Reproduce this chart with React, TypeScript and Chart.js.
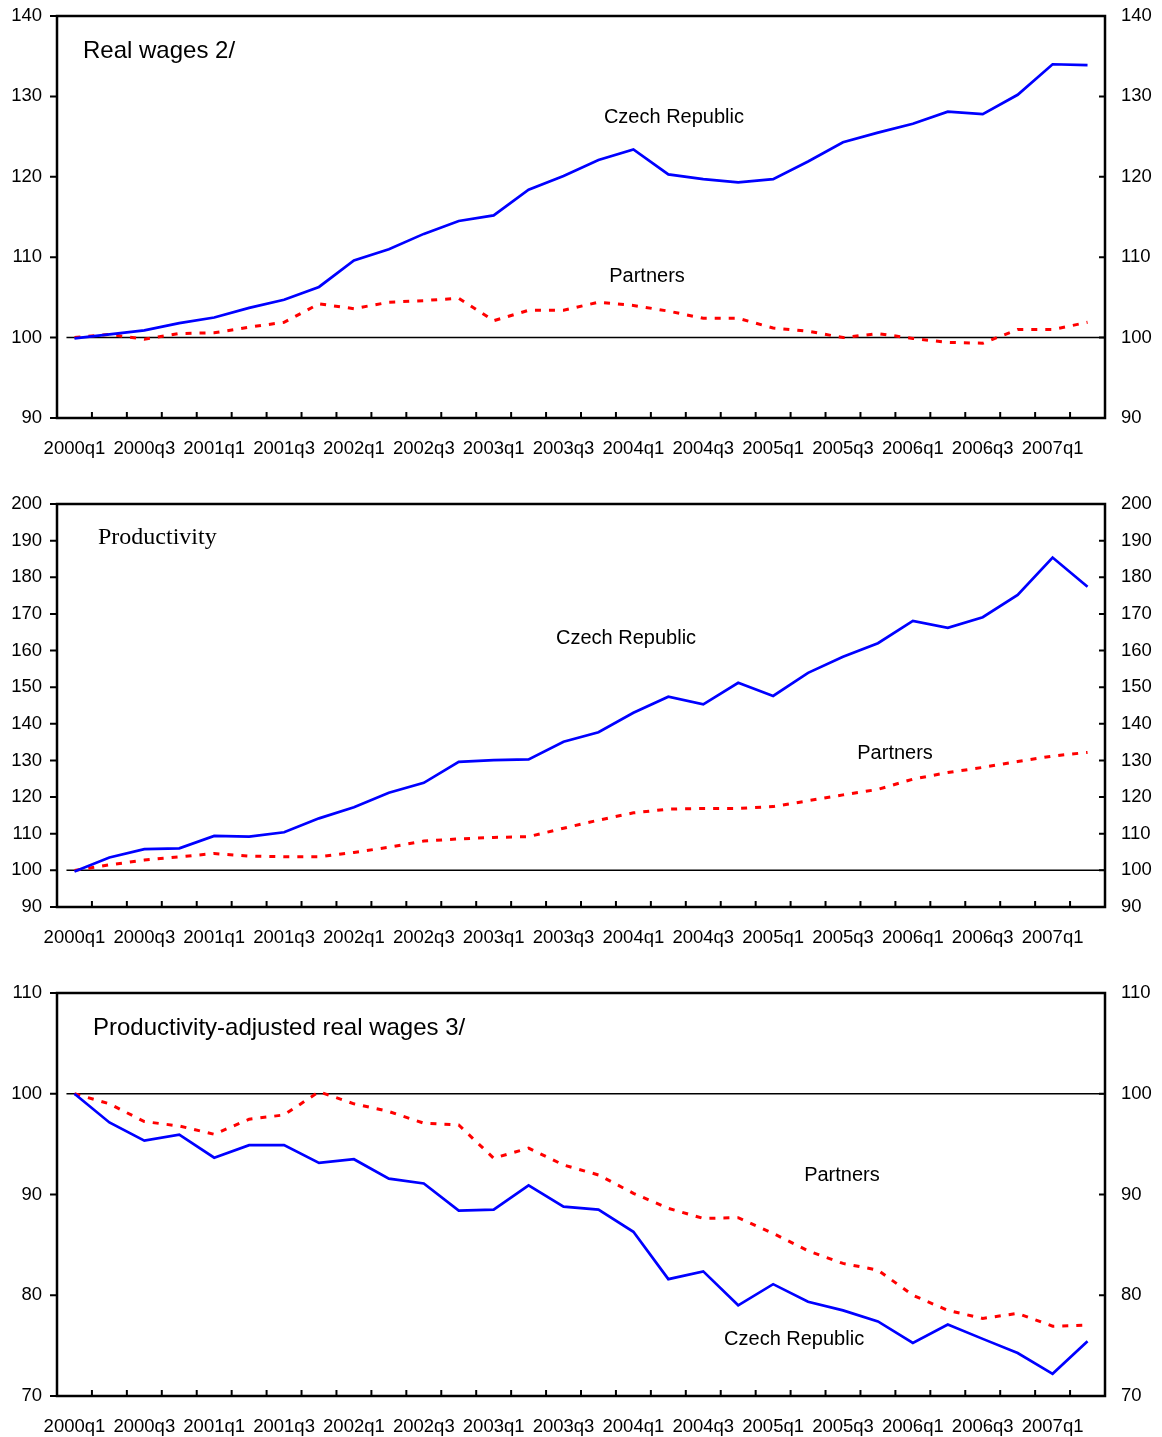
import React, { useEffect, useRef } from "react";
import { Chart, registerables } from "chart.js";

Chart.register(...registerables);

const quarters = [
  "2000q1", "2000q2", "2000q3", "2000q4",
  "2001q1", "2001q2", "2001q3", "2001q4",
  "2002q1", "2002q2", "2002q3", "2002q4",
  "2003q1", "2003q2", "2003q3", "2003q4",
  "2004q1", "2004q2", "2004q3", "2004q4",
  "2005q1", "2005q2", "2005q3", "2005q4",
  "2006q1", "2006q2", "2006q3", "2006q4",
  "2007q1", "2007q2",
];

const BASELINE = 100;

const realWagesCzech = [
  99.9, 100.4, 100.9, 101.8, 102.5, 103.7, 104.7, 106.3, 109.6, 111.0,
  112.9, 114.5, 115.2, 118.4, 120.1, 122.1, 123.4, 120.3, 119.7, 119.3,
  119.7, 121.9, 124.3, 125.5, 126.6, 128.1, 127.8, 130.2, 134.0, 133.9,
];
const realWagesPartners = [
  100.0, 100.4, 99.8, 100.5, 100.6, 101.3, 101.9, 104.2, 103.6, 104.4,
  104.6, 104.9, 102.1, 103.4, 103.4, 104.4, 104.0, 103.3, 102.4, 102.4,
  101.2, 100.8, 100.0, 100.5, 99.9, 99.4, 99.3, 101.0, 101.0, 101.9,
];

const productivityCzech = [
  99.7, 103.5, 105.8, 106.0, 109.4, 109.2, 110.4, 114.2, 117.2, 121.2,
  123.9, 129.6, 130.1, 130.3, 135.1, 137.7, 143.0, 147.4, 145.3, 151.2,
  147.6, 153.9, 158.3, 162.0, 168.1, 166.2, 169.1, 175.2, 185.4, 177.4,
];
const productivityPartners = [
  100.0, 101.5, 102.8, 103.7, 104.6, 103.9, 103.7, 103.7, 104.9, 106.3,
  108.0, 108.6, 109.0, 109.2, 111.5, 113.7, 115.7, 116.7, 116.9, 116.9,
  117.4, 119.0, 120.6, 122.1, 124.9, 126.7, 128.1, 129.7, 131.2, 132.2,
];

const adjustedCzech = [
  100.0, 97.15, 95.35, 95.95, 93.65, 94.9, 94.9, 93.13, 93.5, 91.57,
  91.1, 88.4, 88.5, 90.9, 88.8, 88.5, 86.3, 81.6, 82.37, 79.0,
  81.1, 79.35, 78.5, 77.4, 75.27, 77.1, 75.67, 74.27, 72.2, 75.44,
];
const adjustedPartners = [
  100.0, 99.0, 97.24, 96.8, 95.98, 97.47, 97.9, 100.2, 99.0, 98.24,
  97.08, 96.9, 93.6, 94.6, 92.93, 91.94, 90.12, 88.63, 87.63, 87.7,
  86.14, 84.41, 83.16, 82.5, 80.0, 78.5, 77.7, 78.2, 76.93, 77.03,
];

const SANS = "'Liberation Sans', Arial, Helvetica, sans-serif";
const SERIF = "'Liberation Serif', 'Times New Roman', Times, serif";

type Note = { text: string; x: number; y: number };

type PanelProps = {
  top: number;
  height: number;
  padTop: number;
  xAxisHeight: number;
  yMin: number;
  yMax: number;
  czech: number[];
  partners: number[];
  title: string;
  titleFont: string;
  titleDx: number;
  titleDy: number;
  notes: Note[];
};

function Panel(p: PanelProps) {
  const ref = useRef<HTMLCanvasElement | null>(null);
  useEffect(() => {
    if (!ref.current) return;
    const decor = {
      id: "decor",
      beforeDatasetsDraw(chart: any) {
        const { ctx, chartArea: a, scales } = chart;
        const x = scales.x;
        const y = scales.y;
        ctx.save();
        const by = y.getPixelForValue(BASELINE);
        ctx.strokeStyle = "#000";
        ctx.lineWidth = 1.5;
        ctx.beginPath();
        ctx.moveTo(x.getPixelForValue(0) - 8, by);
        ctx.lineTo(a.right, by);
        ctx.stroke();
        ctx.restore();
      },
      afterDatasetsDraw(chart: any) {
        const { ctx, chartArea: a, scales } = chart;
        const x = scales.x;
        const y = scales.y;
        ctx.save();
        ctx.strokeStyle = "#000";
        ctx.lineWidth = 2.5;
        ctx.strokeRect(a.left, a.top, a.right - a.left, a.bottom - a.top);
        ctx.lineWidth = 2;
        ctx.beginPath();
        const n = quarters.length;
        for (let i = 1; i < n; i++) {
          const bx = (x.getPixelForValue(i - 1) + x.getPixelForValue(i)) / 2;
          ctx.moveTo(bx, a.bottom);
          ctx.lineTo(bx, a.bottom - 6);
        }
        for (const t of y.ticks) {
          const py = y.getPixelForValue(t.value);
          ctx.moveTo(a.left - 7, py);
          ctx.lineTo(a.left, py);
          ctx.moveTo(a.right - 6, py);
          ctx.lineTo(a.right, py);
        }
        ctx.stroke();
        ctx.fillStyle = "#000";
        ctx.textBaseline = "middle";
        ctx.textAlign = "left";
        ctx.font = p.titleFont;
        ctx.fillText(p.title, a.left + p.titleDx, a.top + p.titleDy);
        ctx.textAlign = "center";
        ctx.font = `20px ${SANS}`;
        for (const nt of p.notes) {
          ctx.fillText(nt.text, x.getPixelForValue(nt.x), y.getPixelForValue(nt.y));
        }
        ctx.restore();
      },
    };
    const tickFont = { family: SANS, size: 18.5 };
    const yAxis = (position: "left" | "right") => ({
      position,
      min: p.yMin,
      max: p.yMax,
      ticks: { stepSize: 10, padding: position === "left" ? 15 : 16, color: "#000", font: tickFont },
      grid: { display: false, drawTicks: false },
      border: { display: false },
      afterFit: (s: any) => {
        s.width = 57;
        s.paddingTop = 0;
        s.paddingBottom = 0;
      },
    });
    const chart = new Chart(ref.current, {
      type: "line",
      data: {
        labels: quarters,
        datasets: [
          {
            label: "Czech Republic",
            data: p.czech,
            borderColor: "#0000FF",
            borderWidth: 2.7,
            pointRadius: 0,
            tension: 0,
            fill: false,
            yAxisID: "y",
          },
          {
            label: "Partners",
            data: p.partners,
            borderColor: "#FF0000",
            borderWidth: 3,
            borderDash: [6, 8],
            pointRadius: 0,
            tension: 0,
            fill: false,
            yAxisID: "y",
          },
        ],
      },
      options: {
        animation: false,
        responsive: false,
        devicePixelRatio: 1,
        layout: { padding: { top: p.padTop, left: 0, right: 0, bottom: 0 } },
        plugins: { legend: { display: false }, tooltip: { enabled: false } },
        scales: {
          x: {
            type: "category",
            offset: true,
            grid: { display: false, drawTicks: false },
            border: { display: false },
            ticks: {
              autoSkip: false,
              maxRotation: 0,
              minRotation: 0,
              padding: 20,
              color: "#000",
              font: tickFont,
              callback: (_v: any, i: number) => (i % 2 === 0 ? quarters[i] : ""),
            },
            afterFit: (s: any) => {
              s.height = p.xAxisHeight;
              s.paddingLeft = 0;
              s.paddingRight = 0;
            },
          },
          y: yAxis("left"),
          y2: yAxis("right"),
        },
      },
      plugins: [decor],
    } as any);
    return () => chart.destroy();
  }, []);
  return (
    <canvas
      ref={ref}
      width={1162}
      height={p.height}
      style={{ position: "absolute", left: 0, top: p.top, width: 1162, height: p.height, display: "block" }}
    />
  );
}

export default function App() {
  return (
    <div style={{ position: "absolute", left: 0, top: 0, width: 1162, height: 1437, background: "#fff" }}>
      <Panel
        top={0}
        height={488}
        padTop={16}
        xAxisHeight={70}
        yMin={90}
        yMax={140}
        czech={realWagesCzech}
        partners={realWagesPartners}
        title="Real wages 2/"
        titleFont={`24px ${SANS}`}
        titleDx={26}
        titleDy={35}
        notes={[
          { text: "Czech Republic", x: 17.16, y: 127.4 },
          { text: "Partners", x: 16.39, y: 107.66 },
        ]}
      />
      <Panel
        top={488}
        height={488}
        padTop={16}
        xAxisHeight={69}
        yMin={90}
        yMax={200}
        czech={productivityCzech}
        partners={productivityPartners}
        title="Productivity"
        titleFont={`24px ${SERIF}`}
        titleDx={41}
        titleDy={34}
        notes={[
          { text: "Czech Republic", x: 15.79, y: 163.4 },
          { text: "Partners", x: 23.49, y: 132.0 },
        ]}
      />
      <Panel
        top={976}
        height={461}
        padTop={17}
        xAxisHeight={41}
        yMin={70}
        yMax={110}
        czech={adjustedCzech}
        partners={adjustedPartners}
        title="Productivity-adjusted real wages 3/"
        titleFont={`24px ${SANS}`}
        titleDx={36}
        titleDy={35}
        notes={[
          { text: "Partners", x: 21.97, y: 91.84 },
          { text: "Czech Republic", x: 20.6, y: 75.64 },
        ]}
      />
    </div>
  );
}
